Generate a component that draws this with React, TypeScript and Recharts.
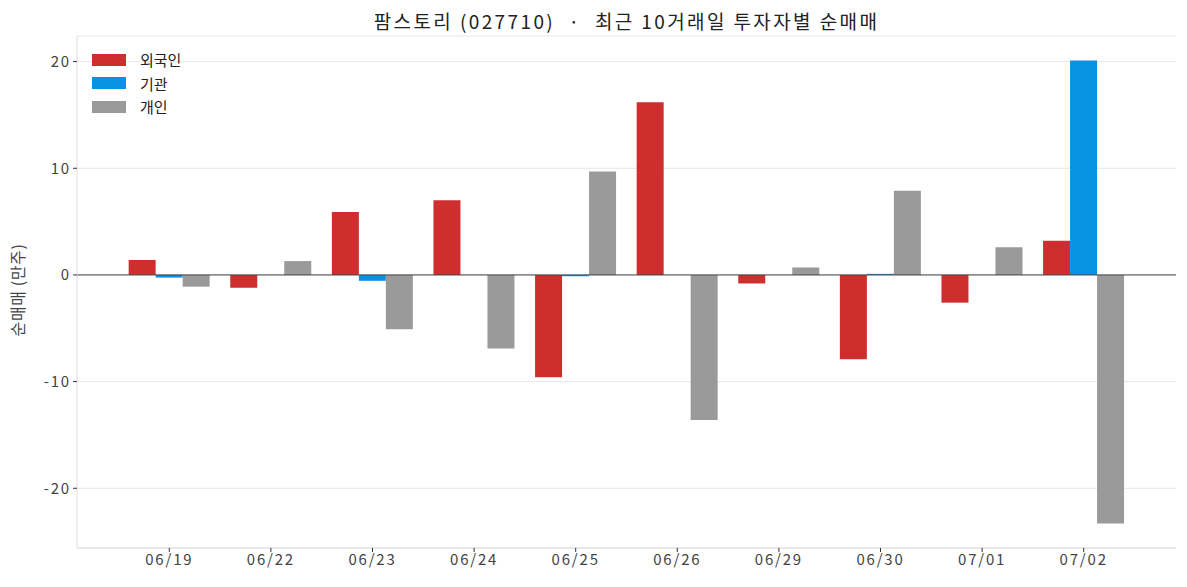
import { Bar, BarChart, CartesianGrid, ReferenceLine, XAxis, YAxis } from 'recharts'

const dates = ['06/19', '06/22', '06/23', '06/24', '06/25', '06/26', '06/29', '06/30', '07/01', '07/02']
const foreign = [1.4, -1.2, 5.9, 7.0, -9.6, 16.2, -0.8, -7.9, -2.6, 3.2]
const institution = [-0.25, 0, -0.55, 0, -0.12, 0, 0, 0.1, 0, 20.1]
const individual = [-1.1, 1.3, -5.1, -6.9, 9.7, -13.6, 0.7, 7.9, 2.6, -23.3]
const yTicks = [-20, -10, 0, 10, 20]

const series = [
  { key: 'foreign', name: '외국인', color: '#cf2e2e' },
  { key: 'institution', name: '기관', color: '#0892e2' },
  { key: 'individual', name: '개인', color: '#9a9a9a' },
]

const data = dates.map((date, i) => ({
  date,
  foreign: foreign[i],
  institution: institution[i],
  individual: individual[i],
}))

const FONT = '"Noto Sans CJK KR", "Noto Sans", sans-serif'
const FRAME = '#dddddd'
const tickStyle = { fill: '#444', fontSize: 15, fontFamily: FONT, letterSpacing: 1.8 }

export default function App() {
  return (
    <div style={{ position: 'absolute', left: 0, top: 0, width: 1187, height: 587, background: '#fff', fontFamily: FONT }}>
      <div
        style={{
          position: 'absolute',
          left: 77,
          width: 1099,
          top: 7,
          textAlign: 'center',
          fontSize: 19,
          letterSpacing: 2.4,
          color: '#222',
          whiteSpace: 'pre',
        }}
      >
        {'팜스토리 (027710)  ·  최근 10거래일 투자자별 순매매'}
      </div>
      <div
        style={{
          position: 'absolute',
          left: 17,
          top: 290,
          transform: 'translate(-50%, -50%) rotate(-90deg)',
          fontSize: 16,
          letterSpacing: 0.6,
          color: '#444',
          whiteSpace: 'nowrap',
        }}
      >
        순매매 (만주)
      </div>
      <BarChart
        width={1187}
        height={587}
        data={data}
        margin={{ top: 36, right: 11, bottom: 9, left: 0 }}
        barCategoryGap="10%"
        barGap={0}
      >
        <CartesianGrid vertical={false} stroke="#e6e6e6" />
        <XAxis
          dataKey="date"
          height={30}
          padding={{ left: 41.5, right: 41.5 }}
          axisLine={{ stroke: FRAME }}
          tickLine={{ stroke: '#333' }}
          tickSize={4}
          tick={tickStyle}
        />
        <XAxis xAxisId="top" dataKey="date" orientation="top" height={0} tick={false} tickLine={false} axisLine={{ stroke: FRAME }} />
        <YAxis
          width={77}
          domain={[-25.6, 22.4]}
          ticks={yTicks}
          allowDataOverflow
          axisLine={{ stroke: FRAME }}
          tickLine={{ stroke: '#333' }}
          tickSize={4}
          tick={tickStyle}
        />
        <YAxis yAxisId="right" orientation="right" width={0} tick={false} tickLine={false} axisLine={{ stroke: FRAME }} />
        <ReferenceLine y={0} stroke="#444" strokeWidth={1} />
        {series.map((s) => (
          <Bar key={s.key} dataKey={s.key} name={s.name} fill={s.color} isAnimationActive={false} />
        ))}
      </BarChart>
      <div style={{ position: 'absolute', left: 92, top: 48, fontSize: 15, color: '#222' }}>
        {series.map((s) => (
          <div key={s.key} style={{ display: 'flex', alignItems: 'center', height: 23.5 }}>
            <span style={{ display: 'inline-block', width: 34, height: 12, background: s.color, marginRight: 14 }} />
            <span>{s.name}</span>
          </div>
        ))}
      </div>
    </div>
  )
}
